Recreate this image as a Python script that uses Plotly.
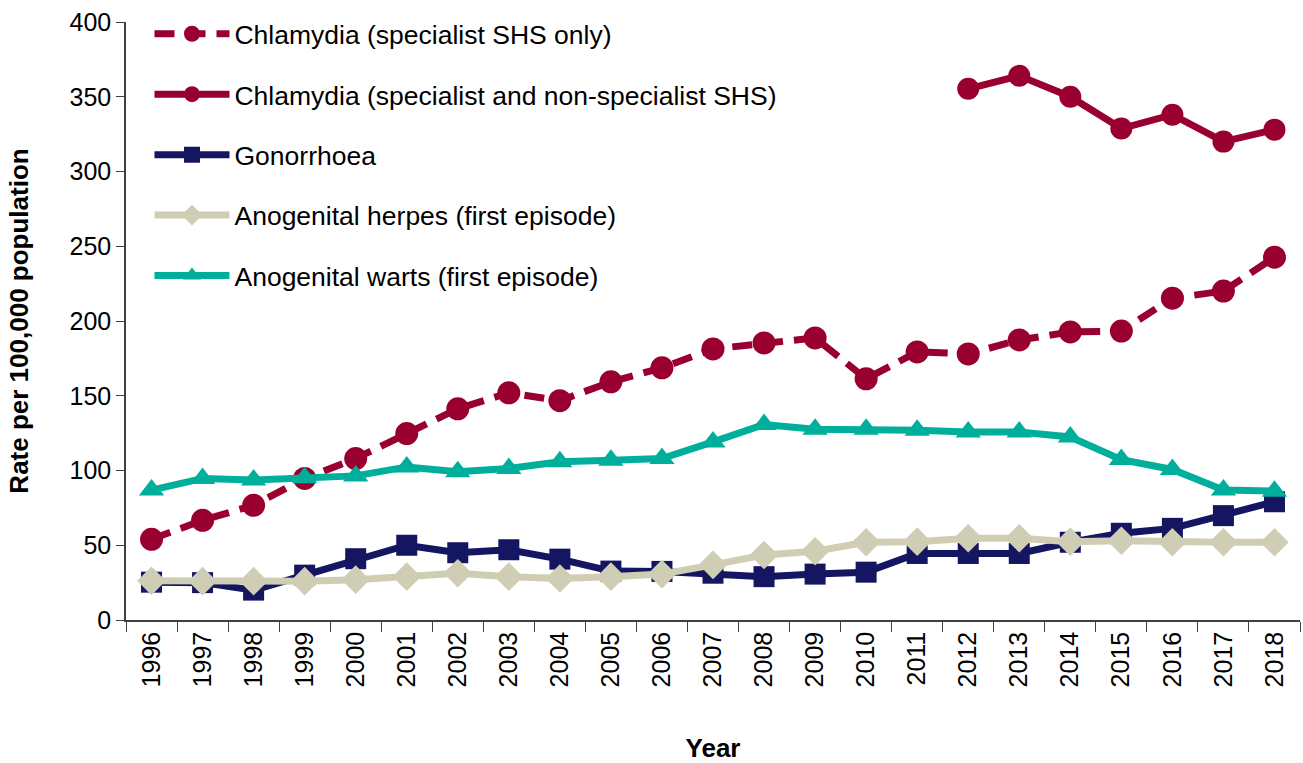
import plotly.graph_objects as go

years = [str(y) for y in range(1996, 2019)]

chlamydia_shs = [54, 66.7, 76.7, 94.7, 108, 124.7, 141.3, 152, 146.7, 159.3, 168.7, 181.3,
                 185.3, 188.7, 161.3, 179.3, 178, 187.3, 192.7, 193.3, 215.3, 220, 242.7]
chlamydia_all_years = [str(y) for y in range(2012, 2019)]
chlamydia_all = [355.3, 364, 350, 328.7, 338, 320, 328]
gonorrhoea = [25.3, 25, 20, 30, 41, 50, 45, 47, 40.7, 32.7, 32.5, 31.3, 29, 30.7, 32,
              44.5, 44.5, 44.5, 52, 58, 61.3, 69.8, 79.1]
herpes = [26.2, 26, 26, 26, 27, 29, 31.3, 29, 27.8, 29, 30.7, 36.9, 43.5, 46, 52, 52.4,
          54.7, 54.7, 52.4, 53, 52, 52, 52]
warts = [86.9, 94.7, 93.6, 95.1, 96.4, 102.4, 99.1, 101.3, 105.8, 106.9, 108, 119.1,
         130.7, 127.6, 127.6, 126.9, 125.8, 125.8, 122.4, 107.3, 100.7, 86.9, 86.2]

names = ["Chlamydia (specialist SHS only)",
         "Chlamydia (specialist and non-specialist SHS)",
         "Gonorrhoea",
         "Anogenital herpes (first episode)",
         "Anogenital warts (first episode)"]

CRIMSON = "#990030"
NAVY = "#141661"
BEIGE = "#CFCEB4"
TEAL = "#00AF9B"

FONT = "Arial, Liberation Sans, sans-serif"

fig = go.Figure()
fig.add_trace(go.Scatter(x=years, y=chlamydia_shs, name=names[0], mode="lines+markers",
                         line=dict(color=CRIMSON, width=7, dash="20px,11px"),
                         marker=dict(symbol="circle", size=23, color=CRIMSON),
                         legendgroup="a"))
fig.add_trace(go.Scatter(x=chlamydia_all_years, y=chlamydia_all, name=names[1], mode="lines+markers",
                         line=dict(color=CRIMSON, width=7),
                         marker=dict(symbol="circle", size=22, color=CRIMSON),
                         legendgroup="b"))
fig.add_trace(go.Scatter(x=years, y=gonorrhoea, name=names[2], mode="lines+markers",
                         line=dict(color=NAVY, width=7),
                         marker=dict(symbol="square", size=21, color=NAVY),
                         legendgroup="c"))
fig.add_trace(go.Scatter(x=years, y=herpes, name=names[3], mode="lines+markers",
                         line=dict(color=BEIGE, width=7),
                         marker=dict(symbol="diamond", size=22, color=BEIGE),
                         legendgroup="d"))
fig.add_trace(go.Scatter(x=years, y=warts, name=names[4], mode="lines+markers",
                         line=dict(color=TEAL, width=7),
                         marker=dict(symbol="triangle-up", size=22, color=TEAL),
                         legendgroup="e"))

fig.update_layout(
    width=1303, height=763,
    margin=dict(l=126, r=3, t=22, b=141),
    paper_bgcolor="white", plot_bgcolor="white",
    font=dict(family=FONT, size=25, color="black"),
    showlegend=True,
    legend=dict(x=0.02, y=1.02, xanchor="left", yanchor="top",
                font=dict(family=FONT, size=26.5, color="black"),
                bgcolor="rgba(0,0,0,0)", tracegroupgap=23,
                traceorder="grouped", itemwidth=75),
    xaxis=dict(type="category", categoryorder="array", categoryarray=years,
               range=[-0.5, 22.5], showgrid=False, zeroline=False,
               showline=True, linecolor="#404040", linewidth=1.5,
               ticks="outside", tickson="boundaries", ticklen=10, tickcolor="#404040",
               tickangle=-90, tickfont=dict(size=25, family=FONT),
               title=dict(text="<b>Year</b>", font=dict(size=26, family=FONT), standoff=54)),
    yaxis=dict(range=[0, 400], dtick=50, showgrid=False, zeroline=False,
               showline=True, linecolor="#404040", linewidth=1.5,
               ticks="outside", ticklen=8, tickcolor="#404040",
               tickfont=dict(size=25, family=FONT),
               title=dict(text="<b>Rate per 100,000 population</b>", font=dict(size=26, family=FONT),
                          standoff=33)),
)

fig.write_html("out.html", config={"displayModeBar": False},
               post_script="document.body.style.margin='0';")
